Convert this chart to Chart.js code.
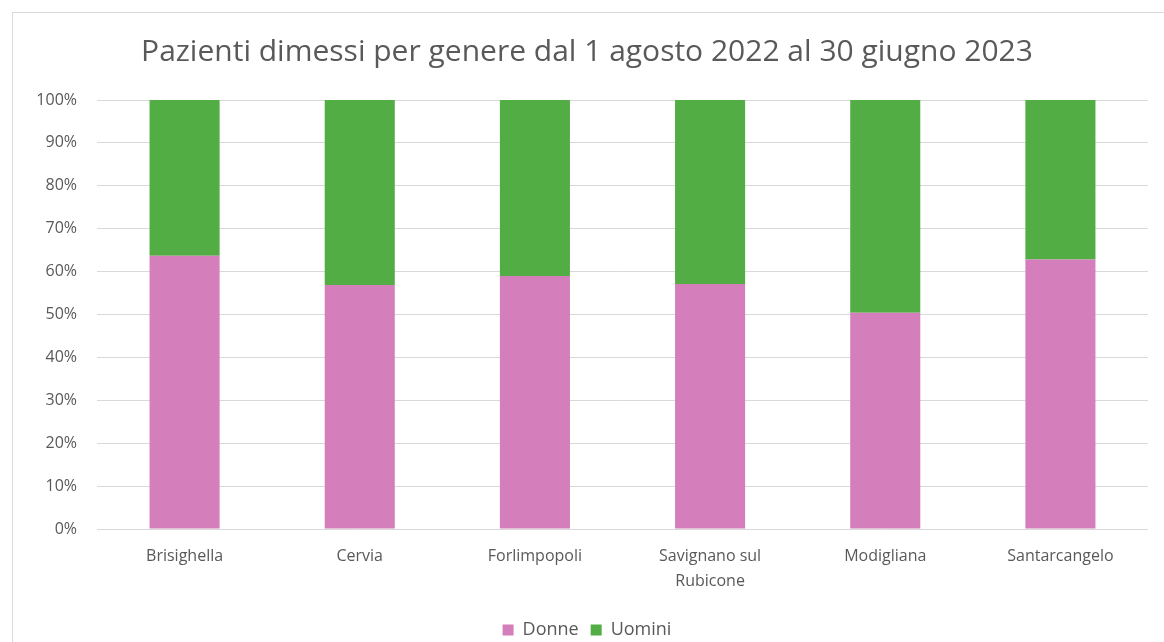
<!DOCTYPE html>
<html>
<head>
<meta charset="utf-8">
<script src="https://cdn.jsdelivr.net/npm/chart.js@4/dist/chart.umd.min.js"></script>
<style>
  html, body { margin: 0; padding: 0; background: #fff; overflow: hidden; }
  #wrap { width: 1164px; height: 642px; position: relative; }
</style>
</head>
<body>
<div id="wrap"><canvas id="myChart" width="1164" height="642"></canvas></div>
<script>
// data (share of discharged patients, %)
const categories = ['Brisighella', 'Cervia', 'Forlimpopoli', ['Savignano sul', 'Rubicone'], 'Modigliana', 'Santarcangelo'];
const donne = [63.7, 56.9, 59.0, 57.1, 50.4, 62.8];
const uomini = [36.3, 43.1, 41.0, 42.9, 49.6, 37.2];
const yTicks = [0, 10, 20, 30, 40, 50, 60, 70, 80, 90, 100];

const grey = '#595959';
const font = '"Open Sans", Lato, sans-serif';

// light frame round the chart, like the excel chart area
const frame = {
  id: 'frame',
  beforeDraw(chart) {
    const c = chart.ctx;
    c.save();
    c.fillStyle = '#fff';
    c.fillRect(0, 0, chart.width, chart.height);
    c.strokeStyle = '#d9d9d9';
    c.lineWidth = 1;
    c.strokeRect(12.5, 12.5, chart.width, chart.height);
    c.restore();
  }
};

var ctx = document.getElementById('myChart').getContext('2d');
var chart = new Chart(ctx, {
  type: 'bar',
  data: {
    labels: categories,
    datasets: [{
      label: 'Donne',
      data: donne,
      backgroundColor: '#d47fbb'
    }, {
      label: 'Uomini',
      data: uomini,
      backgroundColor: '#52ae44'
    }]
  },
  options: {
    responsive: false,
    animation: false,
    // left padding nudges title/legend centre right, y axis width trimmed to match
    layout: { padding: { top: 4, left: 26, right: 16, bottom: -7 } },
    datasets: { bar: { categoryPercentage: 1, barPercentage: 0.4 } },
    plugins: {
      title: {
        display: true,
        text: 'Pazienti dimessi per genere dal 1 agosto 2022 al 30 giugno 2023',
        color: grey,
        font: { family: font, size: 30, weight: 'normal' },
        padding: { top: 30, bottom: 30 }
      },
      legend: {
        position: 'bottom',
        labels: {
          color: grey,
          font: { family: font, size: 18 },
          boxWidth: 11,
          boxHeight: 11,
          padding: 12
        }
      },
      tooltip: { enabled: false }
    },
    scales: {
      x: {
        stacked: true,
        grid: { display: false },
        border: { display: false },
        ticks: { color: grey, font: { family: font, size: 16, lineHeight: 1.55 }, padding: 7, maxRotation: 0 },
        afterFit(s) { s.height = 80; }
      },
      y: {
        stacked: true,
        min: 0,
        max: 100,
        afterBuildTicks(s) { s.ticks = yTicks.map(v => ({ value: v })); },
        afterFit(s) { s.width = 71; },
        grid: { color: '#d9d9d9', lineWidth: 1, drawTicks: false },
        border: { display: false },
        ticks: {
          color: grey,
          font: { family: font, size: 16 },
          padding: 20,
          callback: v => v + '%'
        }
      }
    }
  },
  plugins: [frame]
});
</script>
</body>
</html>
